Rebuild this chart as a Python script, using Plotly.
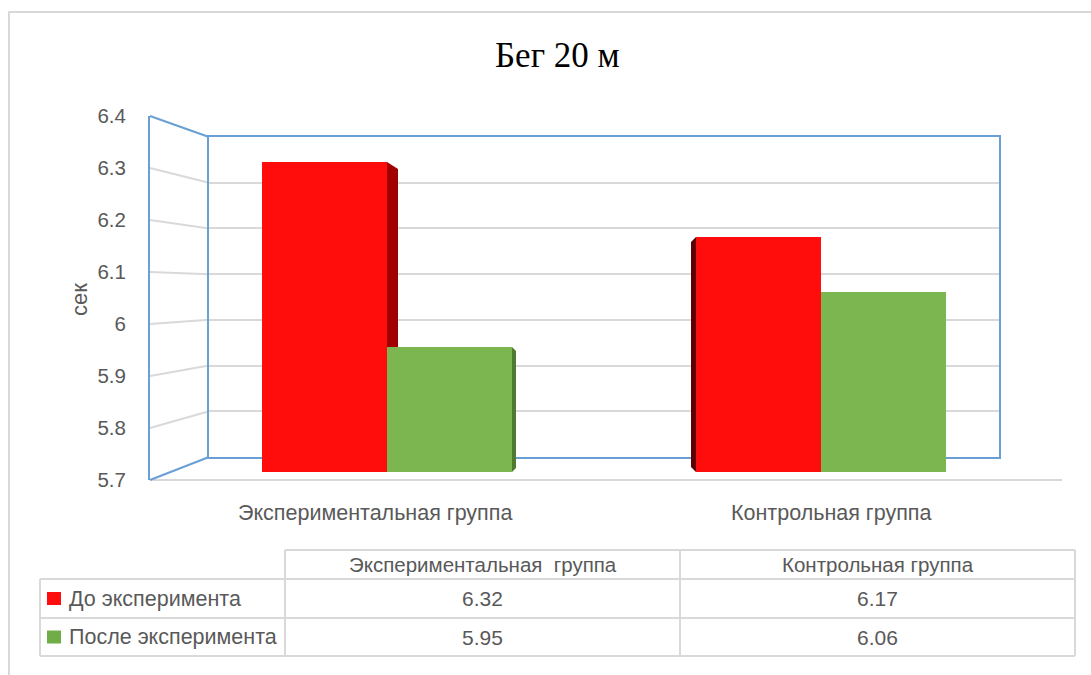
import plotly.graph_objects as go

# ---------------- data ----------------
title_text = "Бег 20 м"
y_title = "сек"
categories = ["Экспериментальная группа", "Контрольная группа"]
series_names = ["До эксперимента", "После эксперимента"]
before_vals = [6.32, 6.17]
after_vals = [5.95, 6.06]
tick_vals = [5.7, 5.8, 5.9, 6.0, 6.1, 6.2, 6.3, 6.4]
tick_text = ["5.7", "5.8", "5.9", "6", "6.1", "6.2", "6.3", "6.4"]
table_header = ["Экспериментальная  группа", "Контрольная группа"]

# ---------------- style / geometry (pixels) ----------------
W, H = 1091, 675
RED, RED_SIDE, RED_SIDE2 = "#ff0d0d", "#a00000", "#5c0000"
GREEN, GREEN_SIDE = "#7cb650", "#4f7a30"
BLUE = "#6a9fd6"
GRID = "#d9d9d9"
TXT = "#595959"
FONT = "Liberation Sans"

FRONT_X, BACK_L, BACK_R, FLOOR_R = 150, 209, 999, 1062
FRONT_Y0, FRONT_Y1 = 480, 116
BACK_Y0, BACK_Y1 = 457, 137
BAR_Y0, BAR_Y1 = 472, 122
BAR_X0, BAR_X1 = 170, 1038
YMIN, YMAX = tick_vals[0], tick_vals[-1]


def px(x):
    return x / W


def py(y):
    return 1 - y / H


def front_y(v):
    return FRONT_Y0 + (v - YMIN) / (YMAX - YMIN) * (FRONT_Y1 - FRONT_Y0)


def back_y(v):
    return BACK_Y0 + (v - YMIN) / (YMAX - YMIN) * (BACK_Y1 - BACK_Y0)


fig = go.Figure()

# back wall subplot (x, y)
fig.add_trace(go.Scatter(x=[None], y=[None], xaxis="x", yaxis="y",
                         showlegend=False, hoverinfo="skip"))
# front axis subplot (x2, y2)
fig.add_trace(go.Scatter(x=[None], y=[None], xaxis="x2", yaxis="y2",
                         showlegend=False, hoverinfo="skip"))

# bars (x3, y3)
BARGAP = 0.424
fig.add_trace(go.Bar(x=[0, 1], y=before_vals, name=series_names[0],
                     marker=dict(color=RED, line=dict(width=0)),
                     xaxis="x3", yaxis="y3", showlegend=False))
fig.add_trace(go.Bar(x=[0, 1], y=after_vals, name=series_names[1],
                     marker=dict(color=GREEN, line=dict(width=0)),
                     xaxis="x3", yaxis="y3", showlegend=False))

shapes = []
annotations = []

# outer chart border
shapes.append(dict(type="rect", xref="paper", yref="paper",
                   x0=px(9), x1=px(1100), y0=py(12), y1=py(690),
                   line=dict(color=GRID, width=2), layer="below"))

# perspective gridlines from side wall to back wall
for v in tick_vals[1:-1]:
    shapes.append(dict(type="line", xref="paper", yref="paper",
                       x0=px(FRONT_X), y0=py(front_y(v)),
                       x1=px(BACK_L), y1=py(back_y(v)),
                       line=dict(color=GRID, width=2), layer="below"))
# floor front edge
shapes.append(dict(type="line", xref="paper", yref="paper",
                   x0=px(FRONT_X), y0=py(front_y(YMIN)),
                   x1=px(FLOOR_R), y1=py(front_y(YMIN)),
                   line=dict(color=GRID, width=2), layer="below"))
# side wall top & bottom edges (blue)
for v in (YMIN, YMAX):
    shapes.append(dict(type="line", xref="paper", yref="paper",
                       x0=px(FRONT_X), y0=py(front_y(v)),
                       x1=px(BACK_L), y1=py(back_y(v)),
                       line=dict(color=BLUE, width=2), layer="below"))

# 3D side faces of bars (in bar axis units)
half = (1 - BARGAP) / 2
ppx = (BAR_X1 - BAR_X0) / 2.0          # pixels per category unit
ppy = (BAR_Y0 - BAR_Y1) / (YMAX - YMIN)  # pixels per value unit
dx, dy = 11 / ppx, 7 / ppy
v = before_vals[0]
shapes.append(dict(type="path", xref="x3", yref="y3", layer="between",
                   path=f"M 0,{v} L {dx},{v-dy} L {dx},{YMIN} L 0,{YMIN} Z",
                   fillcolor=RED_SIDE, line=dict(width=0)))
dx, dy = 4 / ppx, 4 / ppy
v = after_vals[0]
shapes.append(dict(type="path", xref="x3", yref="y3", layer="between",
                   path=f"M {half},{v} L {half+dx},{v-dy} L {half+dx},{YMIN+dy} L {half},{YMIN} Z",
                   fillcolor=GREEN_SIDE, line=dict(width=0)))
xl = 1 - half
dx, dy = 5 / ppx, 5 / ppy
v = before_vals[1]
shapes.append(dict(type="path", xref="x3", yref="y3", layer="between",
                   path=f"M {xl},{v} L {xl-dx},{v-dy} L {xl-dx},{YMIN+dy} L {xl},{YMIN} Z",
                   fillcolor=RED_SIDE2, line=dict(width=0)))

# title
annotations.append(dict(text=title_text, xref="paper", yref="paper",
                        x=px(557), y=py(56), showarrow=False,
                        xanchor="center", yanchor="middle",
                        font=dict(family="Liberation Serif", size=35, color="#000000")))
# y axis title
annotations.append(dict(text=y_title, xref="paper", yref="paper",
                        x=px(79), y=py(300), showarrow=False, textangle=-90,
                        xanchor="center", yanchor="middle",
                        font=dict(family=FONT, size=22, color=TXT)))
# category labels
cat_shift = [-12, 10]
for i, c in enumerate(categories):
    annotations.append(dict(text=c, xref="x3", yref="paper", x=i, y=py(513),
                            xshift=cat_shift[i], showarrow=False,
                            xanchor="center", yanchor="middle",
                            font=dict(family=FONT, size=21.5, color=TXT)))

# ---------------- data table ----------------
TX = [40, 285, 680, 1075]
TY = [550, 579, 618, 656]
tl = dict(color=GRID, width=2)
shapes.append(dict(type="line", xref="paper", yref="paper", x0=px(TX[1]), x1=px(TX[3]),
                   y0=py(TY[0]), y1=py(TY[0]), line=tl))
for yy in TY[1:]:
    shapes.append(dict(type="line", xref="paper", yref="paper", x0=px(TX[0]), x1=px(TX[3]),
                       y0=py(yy), y1=py(yy), line=tl))
shapes.append(dict(type="line", xref="paper", yref="paper", x0=px(TX[0]), x1=px(TX[0]),
                   y0=py(TY[1]), y1=py(TY[3]), line=tl))
for xx in TX[1:]:
    shapes.append(dict(type="line", xref="paper", yref="paper", x0=px(xx), x1=px(xx),
                       y0=py(TY[0]), y1=py(TY[3]), line=tl))
for j, htxt in enumerate(table_header):
    annotations.append(dict(text=htxt, xref="paper", yref="paper",
                            x=px((TX[j + 1] + TX[j + 2]) / 2), y=py((TY[0] + TY[1]) / 2),
                            showarrow=False, xanchor="center", yanchor="middle",
                            font=dict(family=FONT, size=20.5, color=TXT)))
row_vals = [before_vals, after_vals]
row_cols = [RED, "#70ad47"]
for r in range(2):
    yc = (TY[r + 1] + TY[r + 2]) / 2
    shapes.append(dict(type="rect", xref="paper", yref="paper",
                       x0=px(47), x1=px(61), y0=py(yc - 6.5), y1=py(yc + 6.5),
                       fillcolor=row_cols[r], line=dict(width=0)))
    annotations.append(dict(text=series_names[r], xref="paper", yref="paper",
                            x=px(67), y=py(yc), showarrow=False,
                            xanchor="left", yanchor="middle",
                            font=dict(family=FONT, size=21.5, color=TXT)))
    for j in range(2):
        annotations.append(dict(text=f"{row_vals[r][j]:.2f}", xref="paper", yref="paper",
                                x=px((TX[j + 1] + TX[j + 2]) / 2), y=py(yc),
                                showarrow=False, xanchor="center", yanchor="middle",
                                font=dict(family=FONT, size=21, color=TXT)))

common = dict(automargin=False, fixedrange=True)
fig.update_layout(
    width=W, height=H, autosize=False,
    margin=dict(l=0, r=0, t=0, b=0, pad=0, autoexpand=False),
    paper_bgcolor="white",
    plot_bgcolor="rgba(0,0,0,0)",
    barmode="group", bargap=BARGAP, bargroupgap=0,
    shapes=shapes, annotations=annotations,
    showlegend=False,
    xaxis=dict(domain=[px(BACK_L), px(BACK_R)], range=[0, 1], showgrid=False,
               zeroline=False, showticklabels=False, ticks="",
               showline=True, mirror=True, linecolor=BLUE, linewidth=2, **common),
    yaxis=dict(domain=[py(BACK_Y0), py(BACK_Y1)], range=[YMIN, YMAX],
               tickvals=tick_vals[1:-1], showticklabels=False, ticks="",
               showgrid=True, gridcolor=GRID, gridwidth=2, zeroline=False,
               showline=True, mirror=True, linecolor=BLUE, linewidth=2,
               anchor="x", **common),
    xaxis2=dict(domain=[px(FRONT_X), px(BACK_L)], range=[0, 1], visible=False,
                anchor="y2", **common),
    yaxis2=dict(domain=[py(FRONT_Y0), py(FRONT_Y1)], range=[YMIN, YMAX],
                tickvals=tick_vals, ticktext=tick_text, ticks="",
                showgrid=False, zeroline=False, showline=True, linecolor=BLUE,
                linewidth=2, anchor="x2", ticklabelstandoff=18,
                tickfont=dict(family=FONT, size=20.5, color=TXT), **common),
    xaxis3=dict(domain=[px(BAR_X0), px(BAR_X1)], range=[-0.5, 1.5], visible=False,
                anchor="y3", **common),
    yaxis3=dict(domain=[py(BAR_Y0), py(BAR_Y1)], range=[YMIN, YMAX], visible=False,
                anchor="x3", **common),
)

fig.write_html("out.html", config={"displayModeBar": False},
               post_script="document.body.style.margin='0px';document.body.style.overflow='hidden';")
